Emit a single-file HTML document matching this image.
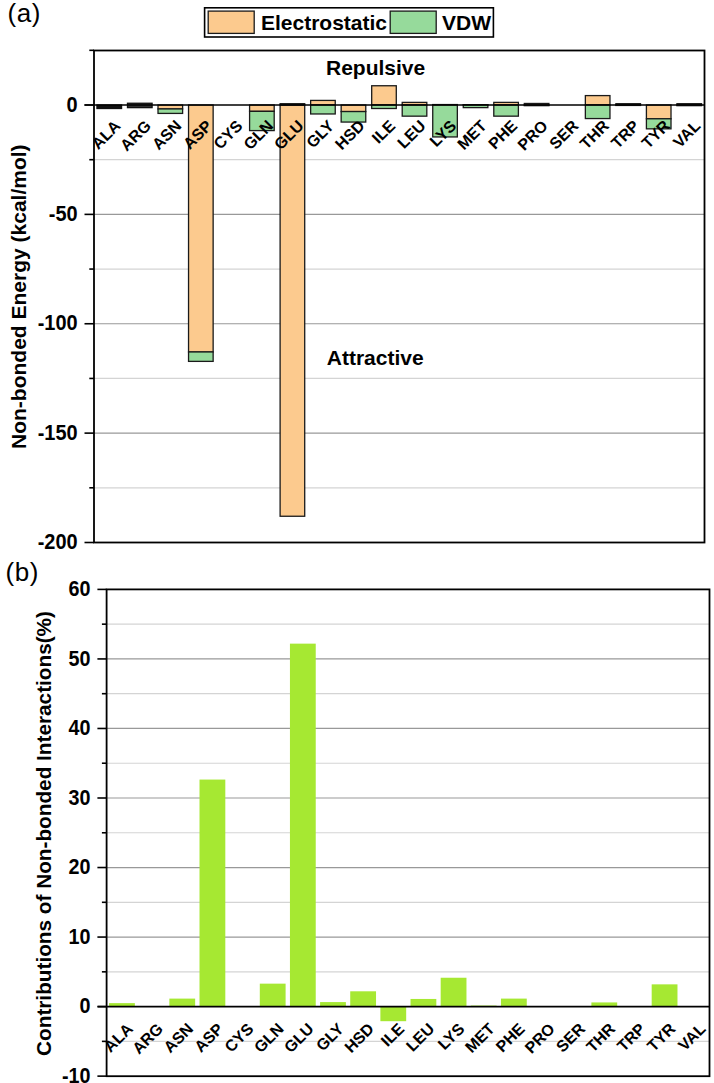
<!DOCTYPE html>
<html><head><meta charset="utf-8"><style>
html,body{margin:0;padding:0;background:#fff;}
body{width:714px;height:1083px;overflow:hidden;}
svg{display:block;font-family:"Liberation Sans", sans-serif;}
</style></head><body>
<svg width="714" height="1083" viewBox="0 0 714 1083" font-family='"Liberation Sans", sans-serif' fill="#000">
<rect width="714" height="1083" fill="#fff"/>
<line x1="94.0" x2="704.5" y1="159.69" y2="159.69" stroke="#d4d4d4" stroke-width="1.2"/>
<line x1="94.0" x2="704.5" y1="214.38" y2="214.38" stroke="#999999" stroke-width="1.2"/>
<line x1="94.0" x2="704.5" y1="269.06" y2="269.06" stroke="#d4d4d4" stroke-width="1.2"/>
<line x1="94.0" x2="704.5" y1="323.75" y2="323.75" stroke="#999999" stroke-width="1.2"/>
<line x1="94.0" x2="704.5" y1="378.44" y2="378.44" stroke="#d4d4d4" stroke-width="1.2"/>
<line x1="94.0" x2="704.5" y1="433.12" y2="433.12" stroke="#999999" stroke-width="1.2"/>
<line x1="94.0" x2="704.5" y1="487.81" y2="487.81" stroke="#d4d4d4" stroke-width="1.2"/>
<rect x="96.96" y="105.00" width="24.6" height="3.50" fill="#111" stroke="#111" stroke-width="1.3"/>
<rect x="127.49" y="103.25" width="24.6" height="4.38" fill="#333" stroke="#111" stroke-width="1.3"/>
<rect x="158.01" y="105.00" width="24.6" height="3.94" fill="#FCCA8E" stroke="#1a1a1a" stroke-width="1.3"/>
<rect x="158.01" y="108.94" width="24.6" height="4.48" fill="#96DA9B" stroke="#1a1a1a" stroke-width="1.3"/>
<rect x="188.54" y="105.00" width="24.6" height="246.97" fill="#FCCA8E" stroke="#1a1a1a" stroke-width="1.3"/>
<rect x="188.54" y="351.97" width="24.6" height="9.41" fill="#96DA9B" stroke="#1a1a1a" stroke-width="1.3"/>
<rect x="249.59" y="105.00" width="24.6" height="6.34" fill="#FCCA8E" stroke="#1a1a1a" stroke-width="1.3"/>
<rect x="249.59" y="111.34" width="24.6" height="19.25" fill="#96DA9B" stroke="#1a1a1a" stroke-width="1.3"/>
<rect x="280.11" y="105.00" width="24.6" height="411.25" fill="#FCCA8E" stroke="#1a1a1a" stroke-width="1.3"/>
<rect x="280.11" y="103.69" width="24.6" height="1.31" fill="#96DA9B" stroke="#1a1a1a" stroke-width="1.3"/>
<rect x="310.64" y="100.41" width="24.6" height="4.59" fill="#FCCA8E" stroke="#1a1a1a" stroke-width="1.3"/>
<rect x="310.64" y="105.00" width="24.6" height="8.97" fill="#96DA9B" stroke="#1a1a1a" stroke-width="1.3"/>
<rect x="341.16" y="105.00" width="24.6" height="6.56" fill="#FCCA8E" stroke="#1a1a1a" stroke-width="1.3"/>
<rect x="341.16" y="111.56" width="24.6" height="10.50" fill="#96DA9B" stroke="#1a1a1a" stroke-width="1.3"/>
<rect x="371.69" y="85.75" width="24.6" height="19.25" fill="#FCCA8E" stroke="#1a1a1a" stroke-width="1.3"/>
<rect x="371.69" y="105.00" width="24.6" height="3.50" fill="#96DA9B" stroke="#1a1a1a" stroke-width="1.3"/>
<rect x="402.21" y="102.38" width="24.6" height="2.62" fill="#FCCA8E" stroke="#1a1a1a" stroke-width="1.3"/>
<rect x="402.21" y="105.00" width="24.6" height="11.16" fill="#96DA9B" stroke="#1a1a1a" stroke-width="1.3"/>
<rect x="432.74" y="104.56" width="24.6" height="0.44" fill="#FCCA8E" stroke="#1a1a1a" stroke-width="1.3"/>
<rect x="432.74" y="105.00" width="24.6" height="31.94" fill="#96DA9B" stroke="#1a1a1a" stroke-width="1.3"/>
<rect x="463.26" y="104.67" width="24.6" height="0.33" fill="#FCCA8E" stroke="#1a1a1a" stroke-width="1.3"/>
<rect x="463.26" y="105.00" width="24.6" height="2.62" fill="#96DA9B" stroke="#1a1a1a" stroke-width="1.3"/>
<rect x="493.79" y="102.38" width="24.6" height="2.62" fill="#FCCA8E" stroke="#1a1a1a" stroke-width="1.3"/>
<rect x="493.79" y="105.00" width="24.6" height="11.16" fill="#96DA9B" stroke="#1a1a1a" stroke-width="1.3"/>
<rect x="524.31" y="103.47" width="24.6" height="1.53" fill="#FCCA8E" stroke="#1a1a1a" stroke-width="1.3"/>
<rect x="524.31" y="105.00" width="24.6" height="0.66" fill="#96DA9B" stroke="#1a1a1a" stroke-width="1.3"/>
<rect x="585.36" y="95.59" width="24.6" height="9.41" fill="#FCCA8E" stroke="#1a1a1a" stroke-width="1.3"/>
<rect x="585.36" y="105.00" width="24.6" height="13.56" fill="#96DA9B" stroke="#1a1a1a" stroke-width="1.3"/>
<rect x="615.89" y="103.69" width="24.6" height="1.31" fill="#FCCA8E" stroke="#1a1a1a" stroke-width="1.3"/>
<rect x="615.89" y="105.00" width="24.6" height="0.44" fill="#96DA9B" stroke="#1a1a1a" stroke-width="1.3"/>
<rect x="646.41" y="105.00" width="24.6" height="13.78" fill="#FCCA8E" stroke="#1a1a1a" stroke-width="1.3"/>
<rect x="646.41" y="118.78" width="24.6" height="10.06" fill="#96DA9B" stroke="#1a1a1a" stroke-width="1.3"/>
<rect x="676.94" y="103.69" width="24.6" height="1.31" fill="#FCCA8E" stroke="#1a1a1a" stroke-width="1.3"/>
<rect x="676.94" y="105.00" width="24.6" height="0.66" fill="#96DA9B" stroke="#1a1a1a" stroke-width="1.3"/>
<line x1="84.5" x2="704.5" y1="105.0" y2="105.0" stroke="#000" stroke-width="1.6"/>
<text transform="translate(106.26,135.00) rotate(-45)" x="16.5" y="5" text-anchor="end" font-size="16" font-weight="bold">ALA</text>
<text transform="translate(136.79,135.00) rotate(-45)" x="16.5" y="5" text-anchor="end" font-size="16" font-weight="bold">ARG</text>
<text transform="translate(167.31,135.00) rotate(-45)" x="16.5" y="5" text-anchor="end" font-size="16" font-weight="bold">ASN</text>
<text transform="translate(197.84,135.00) rotate(-45)" x="16.5" y="5" text-anchor="end" font-size="16" font-weight="bold">ASP</text>
<text transform="translate(228.36,135.00) rotate(-45)" x="16.5" y="5" text-anchor="end" font-size="16" font-weight="bold">CYS</text>
<text transform="translate(258.89,135.00) rotate(-45)" x="16.5" y="5" text-anchor="end" font-size="16" font-weight="bold">GLN</text>
<text transform="translate(289.41,135.00) rotate(-45)" x="16.5" y="5" text-anchor="end" font-size="16" font-weight="bold">GLU</text>
<text transform="translate(319.94,135.00) rotate(-45)" x="16.5" y="5" text-anchor="end" font-size="16" font-weight="bold">GLY</text>
<text transform="translate(350.46,135.00) rotate(-45)" x="16.5" y="5" text-anchor="end" font-size="16" font-weight="bold">HSD</text>
<text transform="translate(380.99,135.00) rotate(-45)" x="16.5" y="5" text-anchor="end" font-size="16" font-weight="bold">ILE</text>
<text transform="translate(411.51,135.00) rotate(-45)" x="16.5" y="5" text-anchor="end" font-size="16" font-weight="bold">LEU</text>
<text transform="translate(442.04,135.00) rotate(-45)" x="16.5" y="5" text-anchor="end" font-size="16" font-weight="bold">LYS</text>
<text transform="translate(472.56,135.00) rotate(-45)" x="16.5" y="5" text-anchor="end" font-size="16" font-weight="bold">MET</text>
<text transform="translate(503.09,135.00) rotate(-45)" x="16.5" y="5" text-anchor="end" font-size="16" font-weight="bold">PHE</text>
<text transform="translate(533.61,135.00) rotate(-45)" x="16.5" y="5" text-anchor="end" font-size="16" font-weight="bold">PRO</text>
<text transform="translate(564.14,135.00) rotate(-45)" x="16.5" y="5" text-anchor="end" font-size="16" font-weight="bold">SER</text>
<text transform="translate(594.66,135.00) rotate(-45)" x="16.5" y="5" text-anchor="end" font-size="16" font-weight="bold">THR</text>
<text transform="translate(625.19,135.00) rotate(-45)" x="16.5" y="5" text-anchor="end" font-size="16" font-weight="bold">TRP</text>
<text transform="translate(655.71,135.00) rotate(-45)" x="16.5" y="5" text-anchor="end" font-size="16" font-weight="bold">TYR</text>
<text transform="translate(686.24,135.00) rotate(-45)" x="16.5" y="5" text-anchor="end" font-size="16" font-weight="bold">VAL</text>
<rect x="94.0" y="50.5" width="610.5" height="492.0" fill="none" stroke="#000" stroke-width="1.8"/>
<line x1="89.3" x2="94.0" y1="50.31" y2="50.31" stroke="#000" stroke-width="1.6"/>
<line x1="84.5" x2="94.0" y1="105.00" y2="105.00" stroke="#000" stroke-width="1.6"/>
<line x1="89.3" x2="94.0" y1="159.69" y2="159.69" stroke="#000" stroke-width="1.6"/>
<line x1="84.5" x2="94.0" y1="214.38" y2="214.38" stroke="#000" stroke-width="1.6"/>
<line x1="89.3" x2="94.0" y1="269.06" y2="269.06" stroke="#000" stroke-width="1.6"/>
<line x1="84.5" x2="94.0" y1="323.75" y2="323.75" stroke="#000" stroke-width="1.6"/>
<line x1="89.3" x2="94.0" y1="378.44" y2="378.44" stroke="#000" stroke-width="1.6"/>
<line x1="84.5" x2="94.0" y1="433.12" y2="433.12" stroke="#000" stroke-width="1.6"/>
<line x1="89.3" x2="94.0" y1="487.81" y2="487.81" stroke="#000" stroke-width="1.6"/>
<line x1="84.5" x2="94.0" y1="542.50" y2="542.50" stroke="#000" stroke-width="1.6"/>
<text transform="translate(77.6,111.60) scale(0.95,1.09)" text-anchor="end" font-size="21" font-weight="bold">0</text>
<text transform="translate(77.6,220.97) scale(0.95,1.09)" text-anchor="end" font-size="21" font-weight="bold">-50</text>
<text transform="translate(77.6,330.35) scale(0.95,1.09)" text-anchor="end" font-size="21" font-weight="bold">-100</text>
<text transform="translate(77.6,439.73) scale(0.95,1.09)" text-anchor="end" font-size="21" font-weight="bold">-150</text>
<text transform="translate(77.6,549.10) scale(0.95,1.09)" text-anchor="end" font-size="21" font-weight="bold">-200</text>
<text x="326" y="75" font-size="21" font-weight="bold">Repulsive</text>
<text x="326.8" y="364.6" font-size="21" font-weight="bold">Attractive</text>
<text transform="translate(25.5,296.70) rotate(-90)" text-anchor="middle" font-size="21" font-weight="bold">Non-bonded Energy (kcal/mol)</text>
<rect x="204.6" y="7.8" width="288.8" height="29.2" fill="#fff" stroke="#000" stroke-width="1.6"/>
<rect x="208.2" y="11.1" width="46" height="22.3" fill="#FCCA8E" stroke="#1a1a1a" stroke-width="1.3"/>
<text x="261" y="29.6" font-size="21" font-weight="bold">Electrostatic</text>
<rect x="390.2" y="11.1" width="46" height="22.3" fill="#96DA9B" stroke="#1a1a1a" stroke-width="1.3"/>
<text x="442" y="29.6" font-size="21" font-weight="bold">VDW</text>
<text x="7.5" y="22.4" font-size="26" letter-spacing="0.6">(a)</text>
<text x="5.5" y="580.5" font-size="26" letter-spacing="0.6">(b)</text>
<line x1="106.6" x2="709.5" y1="624.17" y2="624.17" stroke="#d4d4d4" stroke-width="1.2"/>
<line x1="106.6" x2="709.5" y1="658.93" y2="658.93" stroke="#999999" stroke-width="1.2"/>
<line x1="106.6" x2="709.5" y1="693.70" y2="693.70" stroke="#d4d4d4" stroke-width="1.2"/>
<line x1="106.6" x2="709.5" y1="728.47" y2="728.47" stroke="#999999" stroke-width="1.2"/>
<line x1="106.6" x2="709.5" y1="763.23" y2="763.23" stroke="#d4d4d4" stroke-width="1.2"/>
<line x1="106.6" x2="709.5" y1="798.00" y2="798.00" stroke="#999999" stroke-width="1.2"/>
<line x1="106.6" x2="709.5" y1="832.77" y2="832.77" stroke="#d4d4d4" stroke-width="1.2"/>
<line x1="106.6" x2="709.5" y1="867.53" y2="867.53" stroke="#999999" stroke-width="1.2"/>
<line x1="106.6" x2="709.5" y1="902.30" y2="902.30" stroke="#d4d4d4" stroke-width="1.2"/>
<line x1="106.6" x2="709.5" y1="937.07" y2="937.07" stroke="#999999" stroke-width="1.2"/>
<line x1="106.6" x2="709.5" y1="971.83" y2="971.83" stroke="#d4d4d4" stroke-width="1.2"/>
<line x1="106.6" x2="709.5" y1="1041.37" y2="1041.37" stroke="#d4d4d4" stroke-width="1.2"/>
<rect x="109.07" y="1003.12" width="25.8" height="3.48" fill="#A6E832"/>
<rect x="139.22" y="1006.04" width="25.8" height="0.56" fill="#A6E832"/>
<rect x="169.36" y="998.60" width="25.8" height="8.00" fill="#A6E832"/>
<rect x="199.51" y="779.57" width="25.8" height="227.03" fill="#A6E832"/>
<rect x="259.80" y="983.65" width="25.8" height="22.95" fill="#A6E832"/>
<rect x="289.94" y="643.64" width="25.8" height="362.96" fill="#A6E832"/>
<rect x="320.09" y="1002.08" width="25.8" height="4.52" fill="#A6E832"/>
<rect x="350.23" y="991.30" width="25.8" height="15.30" fill="#A6E832"/>
<rect x="380.38" y="1006.60" width="25.8" height="14.60" fill="#A6E832"/>
<rect x="410.52" y="998.95" width="25.8" height="7.65" fill="#A6E832"/>
<rect x="440.67" y="977.74" width="25.8" height="28.86" fill="#A6E832"/>
<rect x="470.81" y="1005.56" width="25.8" height="1.04" fill="#A6E832"/>
<rect x="500.96" y="998.60" width="25.8" height="8.00" fill="#A6E832"/>
<rect x="531.10" y="1006.25" width="25.8" height="0.35" fill="#A6E832"/>
<rect x="591.39" y="1002.43" width="25.8" height="4.17" fill="#A6E832"/>
<rect x="621.54" y="1006.25" width="25.8" height="0.35" fill="#A6E832"/>
<rect x="651.68" y="984.35" width="25.8" height="22.25" fill="#A6E832"/>
<rect x="681.83" y="1006.25" width="25.8" height="0.35" fill="#A6E832"/>
<line x1="97.6" x2="709.5" y1="1006.6" y2="1006.6" stroke="#000" stroke-width="1.6"/>
<text transform="translate(118.67,1038.00) rotate(-45)" x="16.5" y="5" text-anchor="end" font-size="16" font-weight="bold">ALA</text>
<text transform="translate(148.82,1038.00) rotate(-45)" x="16.5" y="5" text-anchor="end" font-size="16" font-weight="bold">ARG</text>
<text transform="translate(178.96,1038.00) rotate(-45)" x="16.5" y="5" text-anchor="end" font-size="16" font-weight="bold">ASN</text>
<text transform="translate(209.11,1038.00) rotate(-45)" x="16.5" y="5" text-anchor="end" font-size="16" font-weight="bold">ASP</text>
<text transform="translate(239.25,1038.00) rotate(-45)" x="16.5" y="5" text-anchor="end" font-size="16" font-weight="bold">CYS</text>
<text transform="translate(269.40,1038.00) rotate(-45)" x="16.5" y="5" text-anchor="end" font-size="16" font-weight="bold">GLN</text>
<text transform="translate(299.54,1038.00) rotate(-45)" x="16.5" y="5" text-anchor="end" font-size="16" font-weight="bold">GLU</text>
<text transform="translate(329.69,1038.00) rotate(-45)" x="16.5" y="5" text-anchor="end" font-size="16" font-weight="bold">GLY</text>
<text transform="translate(359.83,1038.00) rotate(-45)" x="16.5" y="5" text-anchor="end" font-size="16" font-weight="bold">HSD</text>
<text transform="translate(389.98,1038.00) rotate(-45)" x="16.5" y="5" text-anchor="end" font-size="16" font-weight="bold">ILE</text>
<text transform="translate(420.12,1038.00) rotate(-45)" x="16.5" y="5" text-anchor="end" font-size="16" font-weight="bold">LEU</text>
<text transform="translate(450.27,1038.00) rotate(-45)" x="16.5" y="5" text-anchor="end" font-size="16" font-weight="bold">LYS</text>
<text transform="translate(480.41,1038.00) rotate(-45)" x="16.5" y="5" text-anchor="end" font-size="16" font-weight="bold">MET</text>
<text transform="translate(510.56,1038.00) rotate(-45)" x="16.5" y="5" text-anchor="end" font-size="16" font-weight="bold">PHE</text>
<text transform="translate(540.70,1038.00) rotate(-45)" x="16.5" y="5" text-anchor="end" font-size="16" font-weight="bold">PRO</text>
<text transform="translate(570.85,1038.00) rotate(-45)" x="16.5" y="5" text-anchor="end" font-size="16" font-weight="bold">SER</text>
<text transform="translate(600.99,1038.00) rotate(-45)" x="16.5" y="5" text-anchor="end" font-size="16" font-weight="bold">THR</text>
<text transform="translate(631.14,1038.00) rotate(-45)" x="16.5" y="5" text-anchor="end" font-size="16" font-weight="bold">TRP</text>
<text transform="translate(661.28,1038.00) rotate(-45)" x="16.5" y="5" text-anchor="end" font-size="16" font-weight="bold">TYR</text>
<text transform="translate(691.43,1038.00) rotate(-45)" x="16.5" y="5" text-anchor="end" font-size="16" font-weight="bold">VAL</text>
<rect x="106.6" y="589.4" width="602.9" height="486.80000000000007" fill="none" stroke="#000" stroke-width="1.8"/>
<line x1="97.39999999999999" x2="106.6" y1="589.40" y2="589.40" stroke="#000" stroke-width="1.6"/>
<line x1="101.89999999999999" x2="106.6" y1="624.17" y2="624.17" stroke="#000" stroke-width="1.6"/>
<line x1="97.39999999999999" x2="106.6" y1="658.93" y2="658.93" stroke="#000" stroke-width="1.6"/>
<line x1="101.89999999999999" x2="106.6" y1="693.70" y2="693.70" stroke="#000" stroke-width="1.6"/>
<line x1="97.39999999999999" x2="106.6" y1="728.47" y2="728.47" stroke="#000" stroke-width="1.6"/>
<line x1="101.89999999999999" x2="106.6" y1="763.23" y2="763.23" stroke="#000" stroke-width="1.6"/>
<line x1="97.39999999999999" x2="106.6" y1="798.00" y2="798.00" stroke="#000" stroke-width="1.6"/>
<line x1="101.89999999999999" x2="106.6" y1="832.77" y2="832.77" stroke="#000" stroke-width="1.6"/>
<line x1="97.39999999999999" x2="106.6" y1="867.53" y2="867.53" stroke="#000" stroke-width="1.6"/>
<line x1="101.89999999999999" x2="106.6" y1="902.30" y2="902.30" stroke="#000" stroke-width="1.6"/>
<line x1="97.39999999999999" x2="106.6" y1="937.07" y2="937.07" stroke="#000" stroke-width="1.6"/>
<line x1="101.89999999999999" x2="106.6" y1="971.83" y2="971.83" stroke="#000" stroke-width="1.6"/>
<line x1="97.39999999999999" x2="106.6" y1="1006.60" y2="1006.60" stroke="#000" stroke-width="1.6"/>
<line x1="101.89999999999999" x2="106.6" y1="1041.37" y2="1041.37" stroke="#000" stroke-width="1.6"/>
<line x1="97.39999999999999" x2="106.6" y1="1076.13" y2="1076.13" stroke="#000" stroke-width="1.6"/>
<text transform="translate(90.5,596.00) scale(0.94,1.09)" text-anchor="end" font-size="21" font-weight="bold">60</text>
<text transform="translate(90.5,665.53) scale(0.94,1.09)" text-anchor="end" font-size="21" font-weight="bold">50</text>
<text transform="translate(90.5,735.07) scale(0.94,1.09)" text-anchor="end" font-size="21" font-weight="bold">40</text>
<text transform="translate(90.5,804.60) scale(0.94,1.09)" text-anchor="end" font-size="21" font-weight="bold">30</text>
<text transform="translate(90.5,874.13) scale(0.94,1.09)" text-anchor="end" font-size="21" font-weight="bold">20</text>
<text transform="translate(90.5,943.67) scale(0.94,1.09)" text-anchor="end" font-size="21" font-weight="bold">10</text>
<text transform="translate(90.5,1013.20) scale(0.94,1.09)" text-anchor="end" font-size="21" font-weight="bold">0</text>
<text transform="translate(90.5,1082.73) scale(0.94,1.09)" text-anchor="end" font-size="21" font-weight="bold">-10</text>
<text transform="translate(51.0,833.5) rotate(-90)" text-anchor="middle" font-size="20.75" font-weight="bold">Contributions of Non-bonded Interactions(%)</text>
</svg>
</body></html>
